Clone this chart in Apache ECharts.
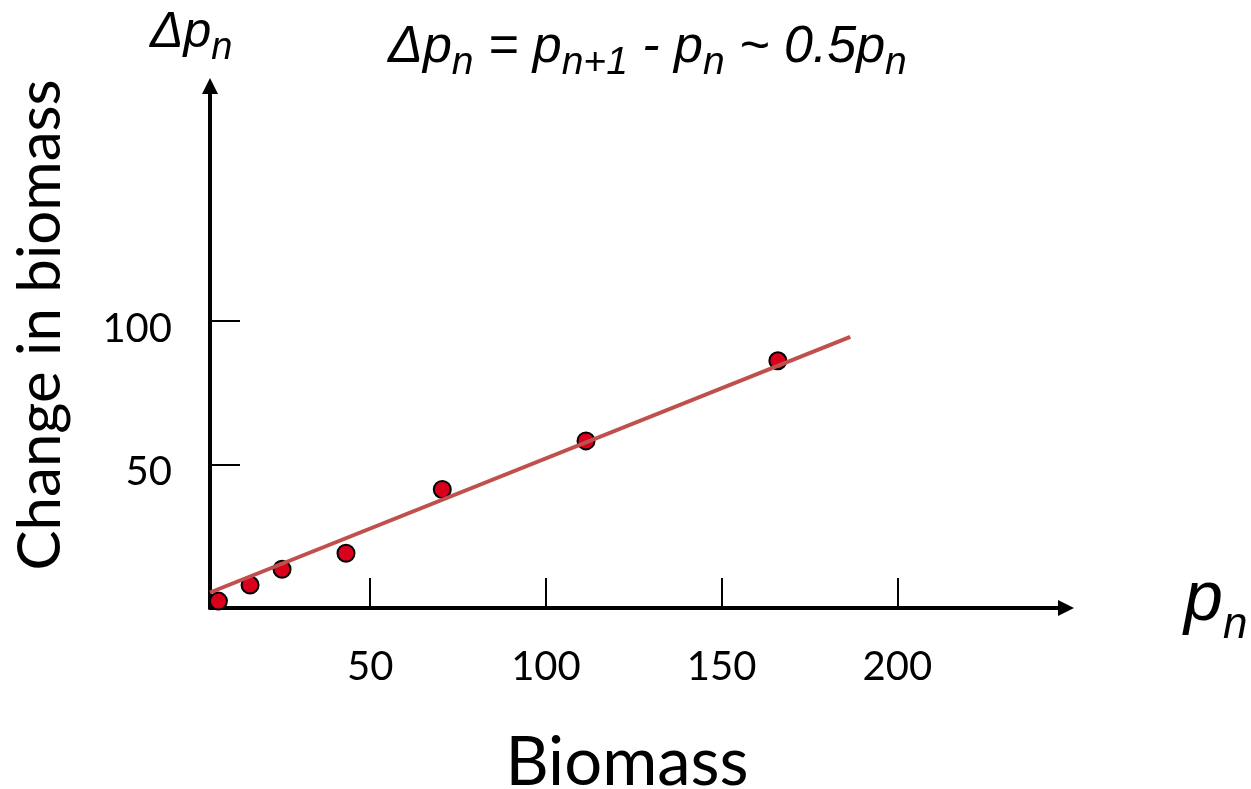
<!DOCTYPE html>
<html>
<head>
<meta charset="utf-8">
<script src="https://cdn.jsdelivr.net/npm/echarts@6/dist/echarts.min.js"></script>
<style>
  html, body { margin: 0; padding: 0; background: #fff; }
  #chart { width: 1251px; height: 789px; }
</style>
</head>
<body>
<div id="chart"></div>
<script>
  // 生物量 p_n 与变化量 Δp_n
  var biomass = [6.8, 15.8, 24.9, 43.1, 70.5, 111.4, 166.0]
  var change = [2.4, 8.0, 13.5, 19.1, 41.3, 58.2, 86.1]
  // 拟合线两端
  var fitX = [4.4, 186.6]
  var fitY = [5.4, 94.4]
  // 刻度
  var xTicks = [50, 100, 150, 200]
  var yTicks = [50, 100]

  var italicFont = 'Liberation Sans'
  var labelFont = 'Lato'

  var myChart = echarts.init(document.getElementById('chart'))

  var points = biomass.map(function (x, i) {
    return [x, change[i]]
  })
  var fitLine = fitX.map(function (x, i) {
    return [x, fitY[i]]
  })

  // 下标样式
  function mathRich (size, subSize, drop) {
    return {
      m: { fontFamily: italicFont, fontStyle: 'italic', fontSize: size, color: '#000', padding: [0, 0, drop, 0] },
      s: { fontFamily: italicFont, fontStyle: 'italic', fontSize: subSize, color: '#000', verticalAlign: 'bottom' }
    }
  }

  var option = {
    animation: false,
    backgroundColor: '#fff',
    grid: {
      left: 210,
      right: 185,
      top: 86,
      bottom: 181,
      containLabel: false,
      outerBoundsMode: 'none'
    },
    xAxis: {
      type: 'value',
      min: 4.4,
      max: 248.0,
      name: 'Biomass',
      nameLocation: 'middle',
      nameGap: 122,
      nameTextStyle: {
        fontFamily: labelFont,
        fontSize: 67,
        color: '#000',
        padding: [0, 22, 0, 0]
      },
      axisLine: {
        onZero: false,
        symbol: ['none', 'triangle'],
        symbolSize: [16, 16],
        lineStyle: { color: '#000', width: 4 }
      },
      axisTick: {
        inside: true,
        length: 30,
        customValues: xTicks,
        lineStyle: { color: '#000', width: 2 }
      },
      axisLabel: {
        customValues: xTicks,
        fontFamily: labelFont,
        fontSize: 40,
        color: '#000',
        margin: 39
      },
      splitLine: { show: false }
    },
    yAxis: {
      type: 'value',
      min: 0,
      max: 181.8,
      name: 'Change in biomass',
      nameLocation: 'middle',
      nameGap: 139,
      nameTextStyle: {
        fontFamily: labelFont,
        fontSize: 60,
        color: '#000',
        padding: [0, 0, 0, 44]
      },
      axisLine: {
        onZero: false,
        symbol: ['none', 'triangle'],
        symbolSize: [16, 16],
        lineStyle: { color: '#000', width: 4 }
      },
      axisTick: {
        inside: true,
        length: 30,
        customValues: yTicks,
        lineStyle: { color: '#000', width: 2 }
      },
      axisLabel: {
        customValues: yTicks,
        fontFamily: labelFont,
        fontSize: 40,
        color: '#000',
        margin: 38,
        verticalAlign: 'top',
        lineHeight: 16
      },
      splitLine: { show: false }
    },
    graphic: [
      { // 纵轴上方的 Δp_n
        type: 'text',
        left: 150,
        top: 8,
        style: {
          text: '{m|Δp}{s|n}',
          rich: mathRich(50, 38, 9)
        }
      },
      { // 公式
        type: 'text',
        left: 388,
        top: 22,
        style: {
          text: '{m|Δp}{s|n}{m| = p}{s|n+1}{m| - p}{s|n}{m| ~ 0.5p}{s|n}',
          rich: mathRich(52, 39, 9)
        }
      },
      { // 横轴右侧的 p_n
        type: 'text',
        left: 1184,
        top: 566,
        style: {
          text: '{m|p}{s|n}',
          rich: mathRich(70, 44, 12)
        }
      }
    ],
    series: [
      {
        name: 'data',
        type: 'scatter',
        z: 2,
        symbolSize: 17,
        itemStyle: {
          color: '#d9001b',
          borderColor: '#000',
          borderWidth: 2,
          opacity: 1
        },
        data: points
      },
      {
        name: 'fit',
        type: 'line',
        z: 3,
        showSymbol: false,
        symbol: 'none',
        lineStyle: { color: '#c0504d', width: 4 },
        data: fitLine
      }
    ]
  }

  myChart.setOption(option)
</script>
</body>
</html>
